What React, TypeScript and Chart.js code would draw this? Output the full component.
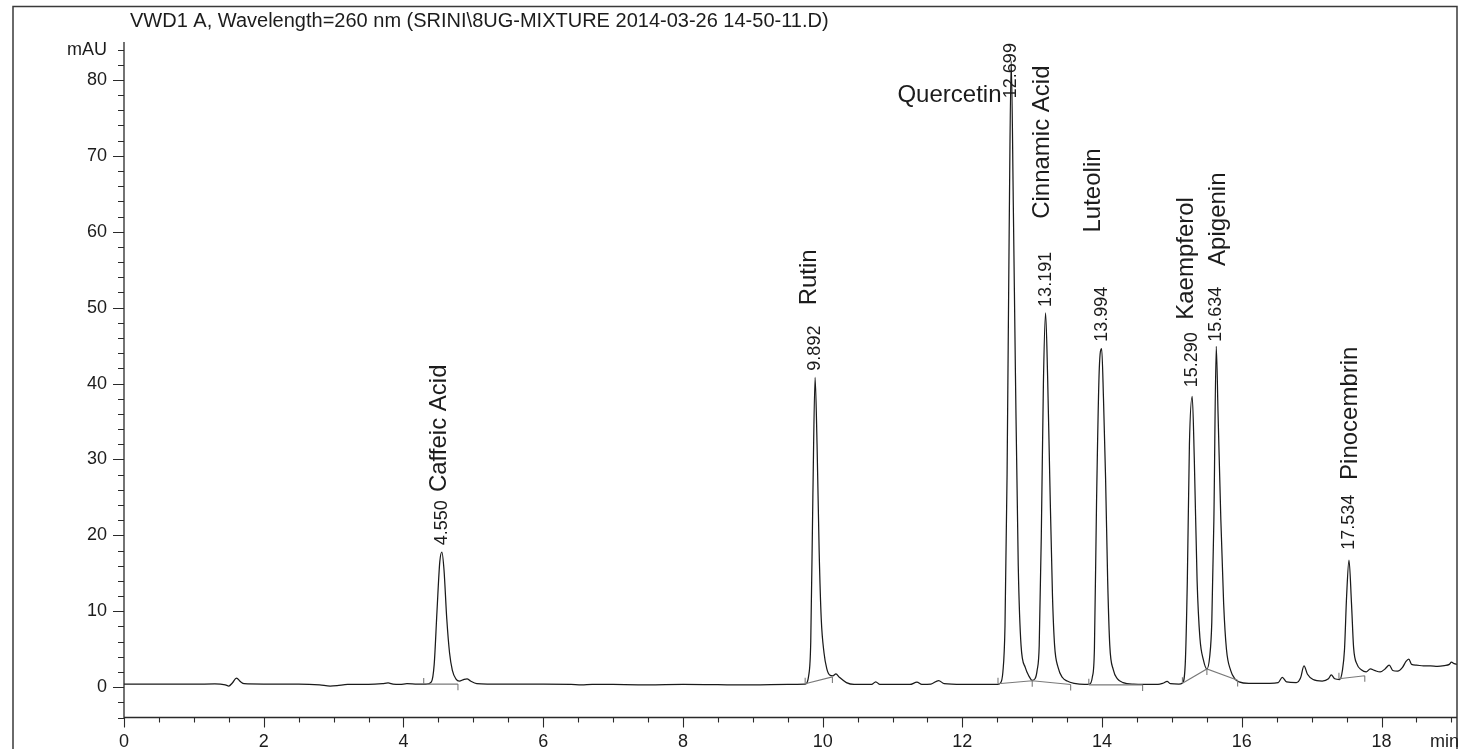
import React, { useEffect, useRef } from "react";
import { Chart, registerables } from "chart.js";

Chart.register(...registerables);

const TITLE = "VWD1 A, Wavelength=260 nm (SRINI\\8UG-MIXTURE 2014-03-26 14-50-11.D)";
const X_UNIT = "min";
const Y_UNIT = "mAU";

// Chromatogram trace: retention time (min) and absorbance (mAU)
const timeMin = [
  0.0, 0.5, 1.0, 1.3, 1.45, 1.5, 1.55, 1.61, 1.67, 1.72, 2.0, 2.5, 2.8, 2.95, 3.05, 3.2, 3.5, 3.7, 3.78, 3.85,
  3.95, 4.05, 4.2, 4.33, 4.4, 4.44, 4.48, 4.52, 4.55, 4.58, 4.62, 4.66, 4.7, 4.75, 4.8, 4.86, 4.91, 4.96, 5.05, 5.2,
  6.0, 6.4, 6.55, 6.7, 7.0, 7.5, 8.0, 8.5, 9.0, 9.5, 9.75, 9.8, 9.83, 9.86, 9.892, 9.92, 9.95, 9.98, 10.02, 10.06,
  10.1, 10.15, 10.19, 10.24, 10.34, 10.45, 10.7, 10.76, 10.82, 11.25, 11.35, 11.42, 11.55, 11.66, 11.74, 12.0, 12.5, 12.54, 12.58, 12.61,
  12.64, 12.67, 12.699, 12.73, 12.76, 12.8, 12.84, 12.9, 12.95, 13.0, 13.04, 13.07, 13.1, 13.13, 13.16, 13.191, 13.22, 13.25, 13.29, 13.32,
  13.37, 13.43, 13.5, 13.6, 13.75, 13.82, 13.86, 13.89, 13.92, 13.96, 13.994, 14.02, 14.05, 14.08, 14.11, 14.16, 14.22, 14.3, 14.45, 14.8,
  14.88, 14.93, 14.98, 15.1, 15.15, 15.19, 15.22, 15.25, 15.29, 15.32, 15.36, 15.4, 15.45, 15.5, 15.54, 15.57, 15.6, 15.634, 15.66, 15.7,
  15.74, 15.78, 15.84, 15.9, 15.96, 16.1, 16.4, 16.52, 16.58, 16.64, 16.78, 16.84, 16.89, 16.94, 17.02, 17.15, 17.24, 17.28, 17.33, 17.4,
  17.44, 17.47, 17.5, 17.534, 17.57, 17.6, 17.65, 17.71, 17.78, 17.84, 17.9, 17.98, 18.05, 18.11, 18.16, 18.23, 18.3, 18.35, 18.39, 18.43,
  18.5, 18.6, 18.7, 18.8, 18.9, 18.97, 19.0, 19.04, 19.08,
];
const signalMAU = [
  0.4, 0.4, 0.4, 0.42, 0.3, 0.15, 0.55, 1.2, 0.7, 0.45, 0.4, 0.4, 0.3, 0.15, 0.2, 0.35, 0.35, 0.45, 0.55, 0.4,
  0.35, 0.45, 0.4, 0.4, 0.7, 3.0, 10, 16.5, 17.8, 15.5, 9, 4.5, 2.2, 1.1, 0.8, 1.0, 1.1, 0.8, 0.45, 0.4,
  0.4, 0.35, 0.3, 0.38, 0.35, 0.3, 0.35, 0.32, 0.3, 0.35, 0.4, 1.5, 6, 25, 40.8, 32, 18, 9, 4.5, 2.4,
  1.6, 1.5, 1.75, 1.3, 0.6, 0.35, 0.35, 0.7, 0.35, 0.35, 0.65, 0.35, 0.4, 0.87, 0.45, 0.35, 0.35, 0.5, 2, 8,
  28, 60, 82.5, 63, 41, 16, 5.5, 2.6, 1.5, 0.9, 1.1, 2.2, 5.5, 20, 40, 49.3, 41, 28, 12, 5.5,
  2.6, 1.3, 0.8, 0.5, 0.35, 0.4, 1.3, 5, 24, 42, 44.6, 38, 27.5, 14, 5.5, 2.3, 1.1, 0.6, 0.4, 0.35,
  0.55, 0.75, 0.45, 0.4, 0.55, 3, 14, 32, 38.3, 30, 14, 6.5, 3.6, 2.4, 4, 8.5, 22, 44.9, 36, 22,
  11, 5, 2.2, 1.1, 0.7, 0.5, 0.5, 0.6, 1.3, 0.7, 0.6, 1.2, 2.8, 1.7, 1.0, 0.8, 1.1, 1.6, 1.1, 1.0,
  2.2, 5, 12, 16.75, 11, 5.2, 3.0, 2.3, 2.0, 2.4, 2.2, 2.0, 2.4, 2.9, 2.2, 2.1, 2.6, 3.4, 3.7, 3.0,
  2.9, 2.8, 2.8, 2.75, 2.85, 3.0, 3.3, 3.1, 3.0,
];

// Integration baselines drawn under the peaks (time, mAU)
const baselineSegments = [
  [[4.33, 0.4], [4.78, 0.4]],
  [[9.75, 0.45], [10.14, 1.35]],
  [[12.51, 0.45], [13.0, 0.85], [13.55, 0.35]],
  [[13.81, 0.3], [14.58, 0.3]],
  [[15.15, 0.5], [15.5, 2.4], [15.94, 0.9]],
  [[17.39, 1.1], [17.76, 1.5]],
];
// Peak start (+1) / end (-1) markers: time, mAU, direction
const peakMarks = [
  [4.29, 0.4, 1], [4.78, 0.4, -1], [9.75, 0.45, 1], [10.14, 1.35, -1],
  [12.51, 0.45, 1], [13.0, 0.85, -1], [13.55, 0.35, -1], [13.81, 0.3, 1], [14.58, 0.3, -1],
  [15.15, 0.5, 1], [15.5, 2.4, -1], [15.94, 0.9, -1], [17.39, 1.1, 1], [17.76, 1.5, -1],
];

// Peak annotations
const peakRT = [4.55, 9.892, 12.699, 13.191, 13.994, 15.29, 15.634, 17.534];
const peakRTText = ["4.550", "9.892", "12.699", "13.191", "13.994", "15.290", "15.634", "17.534"];
const rtLabelStart = [18.7, 41.7, 77.6, 50.1, 45.5, 39.5, 45.5, 18.1];
const peakNames = ["Caffeic Acid", "Rutin", "Quercetin", "Cinnamic Acid", "Luteolin", "Kaempferol", "Apigenin", "Pinocembrin"];
const nameLabelX = [4.52, 9.81, 12.56, 13.15, 13.87, 15.21, 15.67, 17.56];
const nameLabelStart = [25.7, 50.3, 77.1, 61.7, 59.9, 48.4, 55.5, 27.3];
const nameVertical = [true, true, false, true, true, true, true, true];

const X_MIN = 0;
const X_MAX = 19.08;
const Y_MIN = -4;
const Y_MAX = 85;

const FONT = "'Liberation Sans', Arial, Helvetica, sans-serif";
const INK = "#1c1c1c";

export default function App() {
  const ref = useRef<HTMLCanvasElement | null>(null);

  useEffect(() => {
    if (!ref.current) return;

    const trace = timeMin.map((t, i) => ({ x: t, y: signalMAU[i] }));
    const base: any[] = [];
    baselineSegments.forEach((seg) => {
      seg.forEach(([t, v]) => base.push({ x: t, y: v }));
      base.push({ x: seg[seg.length - 1][0], y: null });
    });
    peakMarks.forEach(([t, v, d]) => {
      base.push({ x: t, y: v });
      base.push({ x: t, y: v + d * 0.8 });
      base.push({ x: t, y: null });
    });

    const xTicks: number[] = [];
    for (let i = 0; i <= 38; i++) xTicks.push(i * 0.5);
    const yTicks: number[] = [];
    for (let v = -4; v <= 84; v += 2) yTicks.push(v);

    const decor = {
      id: "decor",
      afterDraw(chart: any) {
        const ctx = chart.ctx;
        const xs = chart.scales.x;
        const ys = chart.scales.y;
        const area = chart.chartArea;
        ctx.save();
        // frame
        ctx.strokeStyle = "#3a3a3a";
        ctx.lineWidth = 1.5;
        ctx.beginPath();
        ctx.moveTo(13, 749);
        ctx.lineTo(13, 6.5);
        ctx.lineTo(area.right, 6.5);
        ctx.lineTo(area.right, 749);
        ctx.stroke();
        // axes
        ctx.strokeStyle = "#2a2a2a";
        ctx.lineWidth = 1.3;
        ctx.beginPath();
        ctx.moveTo(area.left, area.top);
        ctx.lineTo(area.left, area.bottom);
        ctx.lineTo(area.right, area.bottom);
        ctx.stroke();
        // tick marks
        ctx.lineWidth = 1.1;
        ctx.beginPath();
        ys.ticks.forEach((tk: any) => {
          const y = Math.round(ys.getPixelForValue(tk.value)) + 0.5;
          const len = tk.value % 10 === 0 ? 11 : 6;
          ctx.moveTo(area.left - len, y);
          ctx.lineTo(area.left, y);
        });
        xs.ticks.forEach((tk: any) => {
          const x = Math.round(xs.getPixelForValue(tk.value)) + 0.5;
          const len = tk.value % 2 === 0 ? 10 : 5;
          ctx.moveTo(x, area.bottom);
          ctx.lineTo(x, area.bottom + len);
        });
        ctx.stroke();
        // title
        ctx.fillStyle = INK;
        ctx.font = `20px ${FONT}`;
        ctx.textAlign = "left";
        ctx.textBaseline = "alphabetic";
        ctx.fillText(TITLE, 130, 27);
        // x unit
        ctx.font = `18px ${FONT}`;
        ctx.textBaseline = "middle";
        ctx.fillText(X_UNIT, 1430, 742);
        // peak labels
        peakRT.forEach((rt, i) => {
          const x = xs.getPixelForValue(rt);
          const y = ys.getPixelForValue(rtLabelStart[i]);
          ctx.save();
          ctx.translate(x, y);
          ctx.rotate(-Math.PI / 2);
          ctx.font = `18px ${FONT}`;
          ctx.textAlign = "left";
          ctx.textBaseline = "middle";
          ctx.fillText(peakRTText[i], 0, 0);
          ctx.restore();

          const nx = xs.getPixelForValue(nameLabelX[i]);
          const ny = ys.getPixelForValue(nameLabelStart[i]);
          ctx.save();
          ctx.font = `24px ${FONT}`;
          if (nameVertical[i]) {
            ctx.translate(nx, ny);
            ctx.rotate(-Math.PI / 2);
            ctx.textAlign = "left";
            ctx.textBaseline = "middle";
            ctx.fillText(peakNames[i], 0, 0);
          } else {
            ctx.textAlign = "right";
            ctx.textBaseline = "alphabetic";
            ctx.fillText(peakNames[i], nx, ny);
          }
          ctx.restore();
        });
        ctx.restore();
      },
    };

    const chart = new Chart(ref.current, {
      type: "line",
      data: {
        datasets: [
          {
            label: "Baselines",
            data: base,
            borderColor: "#7a7a7a",
            borderWidth: 1.1,
            pointRadius: 0,
            tension: 0,
            spanGaps: false,
          },
          {
            label: "VWD1 A 260 nm",
            data: trace,
            borderColor: "#1a1a1a",
            borderWidth: 1.25,
            pointRadius: 0,
            cubicInterpolationMode: "monotone",
          },
        ],
      },
      options: {
        responsive: false,
        animation: false,
        devicePixelRatio: 1,
        layout: { padding: { left: 0, right: 3, top: 42, bottom: 0 } },
        plugins: { legend: { display: false }, tooltip: { enabled: false }, title: { display: false } },
        scales: {
          x: {
            type: "linear",
            min: X_MIN,
            max: X_MAX,
            grid: { display: false, drawTicks: false },
            border: { display: false },
            afterBuildTicks: (s: any) => {
              s.ticks = xTicks.map((v) => ({ value: v }));
            },
            afterFit: (s: any) => {
              s.height = 31.5;
              s.paddingLeft = 0;
              s.paddingRight = 0;
            },
            ticks: {
              autoSkip: false,
              maxRotation: 0,
              padding: 14,
              color: INK,
              font: { size: 18, family: FONT },
              callback: (v: any) => (Number(v) % 2 === 0 ? String(v) : ""),
            },
          },
          y: {
            type: "linear",
            min: Y_MIN,
            max: Y_MAX,
            grid: { display: false, drawTicks: false },
            border: { display: false },
            afterBuildTicks: (s: any) => {
              s.ticks = yTicks.map((v) => ({ value: v }));
            },
            afterFit: (s: any) => {
              s.width = 124;
              s.paddingTop = 0;
              s.paddingBottom = 0;
            },
            ticks: {
              autoSkip: false,
              padding: 17,
              color: INK,
              font: { size: 18, family: FONT },
              callback: (v: any) => (Number(v) === 84 ? Y_UNIT : Number(v) % 10 === 0 ? String(v) : ""),
            },
          },
        },
      },
      plugins: [decor],
    });

    return () => chart.destroy();
  }, []);

  return (
    <div style={{ position: "absolute", left: 0, top: 0, width: 1460, height: 749, background: "#fff" }}>
      <canvas ref={ref} width={1460} height={749} style={{ display: "block" }} />
    </div>
  );
}
